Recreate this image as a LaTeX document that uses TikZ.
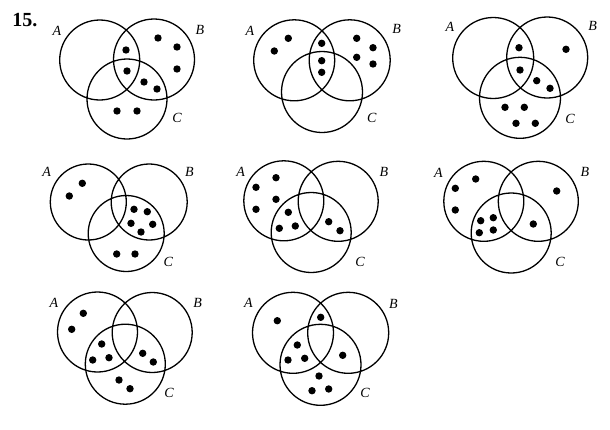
\documentclass[tikz,border=0pt]{standalone}
\usepackage{fontspec}
\setmainfont{Liberation Serif}

\begin{document}
\begin{tikzpicture}[x=1pt, y=-1pt,
    set/.style={draw, line width=1.3pt},
    elem/.style={fill=black},
    setname/.style={font=\fontsize{14}{16}\selectfont\itshape, inner sep=0pt}
]
    \useasboundingbox (0,0) rectangle (610,429);
    \node[font=\fontsize{20}{22}\selectfont\bfseries, inner sep=0pt] (num) at (25,20) {15.};

    % first row
    \draw[set] (99.7,60) circle (40) (154,59.5) circle (40.5) (127,99) circle (40);
    \node[setname] (a1) at (57,31) {A};
    \node[setname] (b1) at (200,30) {B};
    \node[setname] (c1) at (177,118) {C};
    \foreach \x/\y in {126/50, 127/71, 158/38, 177/47, 177/69, 144/82, 157/89, 117/111, 137/111}
        \fill[elem] (\x,\y) circle (3.7);

    \draw[set] (294.2,60.3) circle (40.5) (349.7,60.3) circle (40.5) (322,92) circle (40.5);
    \node[setname] (a2) at (250,31) {A};
    \node[setname] (b2) at (396.7,29) {B};
    \node[setname] (c2) at (371.7,118) {C};
    \foreach \x/\y in {288.3/38.3, 274.3/51, 321.7/43.3, 321.7/60.7, 321.7/72.3, 356.7/38.3, 373/47.7, 356.7/57.3, 373/64}
        \fill[elem] (\x,\y) circle (3.7);

    \draw[set] (493.2,58) circle (40.5) (547.2,57.5) circle (40.5) (520,97.8) circle (40.5);
    \node[setname] (a3) at (450,26.7) {A};
    \node[setname] (b3) at (592.7,26) {B};
    \node[setname] (c3) at (570,119) {C};
    \foreach \x/\y in {519/47.7, 520/70, 536.7/80.7, 550/88.3, 566/49.3, 505/107.3, 524.3/107.3, 516/123.3, 535.3/123.3}
        \fill[elem] (\x,\y) circle (3.7);

    % second row
    \draw[set] (88.3,202) circle (38) (149.2,202) circle (38) (126.2,233.5) circle (38);
    \node[setname] (a4) at (46.7,172.3) {A};
    \node[setname] (b4) at (189.3,172.3) {B};
    \node[setname] (c4) at (168.3,262.3) {C};
    \foreach \x/\y in {82.3/183.3, 69.3/196, 134/209.3, 147.3/211.7, 131/223.3, 152.7/224.3, 141/232, 116.7/254, 135/254}
        \fill[elem] (\x,\y) circle (3.7);

    \draw[set] (283.8,200.8) circle (40) (338.2,201.3) circle (40) (311.2,232.5) circle (40);
    \node[setname] (a5) at (240.7,171.7) {A};
    \node[setname] (b5) at (384,172) {B};
    \node[setname] (c5) at (360,261.7) {C};
    \foreach \x/\y in {276/177.7, 256/187.3, 276/199.3, 256/209.3, 288.3/212.3, 279.3/228.3, 295.3/226, 328.7/221.7, 340/230.7}
        \fill[elem] (\x,\y) circle (3.7);

    \draw[set] (483.8,201.3) circle (40) (538.3,201.3) circle (40) (511.2,233) circle (40);
    \node[setname] (a6) at (438.3,172.7) {A};
    \node[setname] (b6) at (585,172) {B};
    \node[setname] (c6) at (560,261.7) {C};
    \foreach \x/\y in {475.7/179, 455.3/188.3, 455.3/210, 480.7/220.7, 493.3/217.7, 479.3/232.7, 493.3/230, 533.3/224, 556.7/191}
        \fill[elem] (\x,\y) circle (3.7);

    % third row
    \draw[set] (97.5,332) circle (40) (152.2,332.5) circle (40) (125.3,364.2) circle (40);
    \node[setname] (a7) at (54,303.3) {A};
    \node[setname] (b7) at (197.7,303) {B};
    \node[setname] (c7) at (169,393.3) {C};
    \foreach \x/\y in {83.3/313.3, 71.7/329.3, 101.7/344, 92.7/360, 109/357.7, 142.7/353.3, 153.3/362, 119/380, 130/388.7}
        \fill[elem] (\x,\y) circle (3.7);

    \draw[set] (293,332.8) circle (40.5) (348.2,332.8) circle (40.5) (320.5,364.8) circle (40.5);
    \node[setname] (a8) at (248.3,303.3) {A};
    \node[setname] (b8) at (393.3,304) {B};
    \node[setname] (c8) at (365,393.3) {C};
    \foreach \x/\y in {277.3/320.7, 320.7/317.3, 297.3/345, 288/360, 304.7/358.3, 342.7/355.3, 319/376, 312/390.7, 328.7/389}
        \fill[elem] (\x,\y) circle (3.7);
\end{tikzpicture}
\end{document}
